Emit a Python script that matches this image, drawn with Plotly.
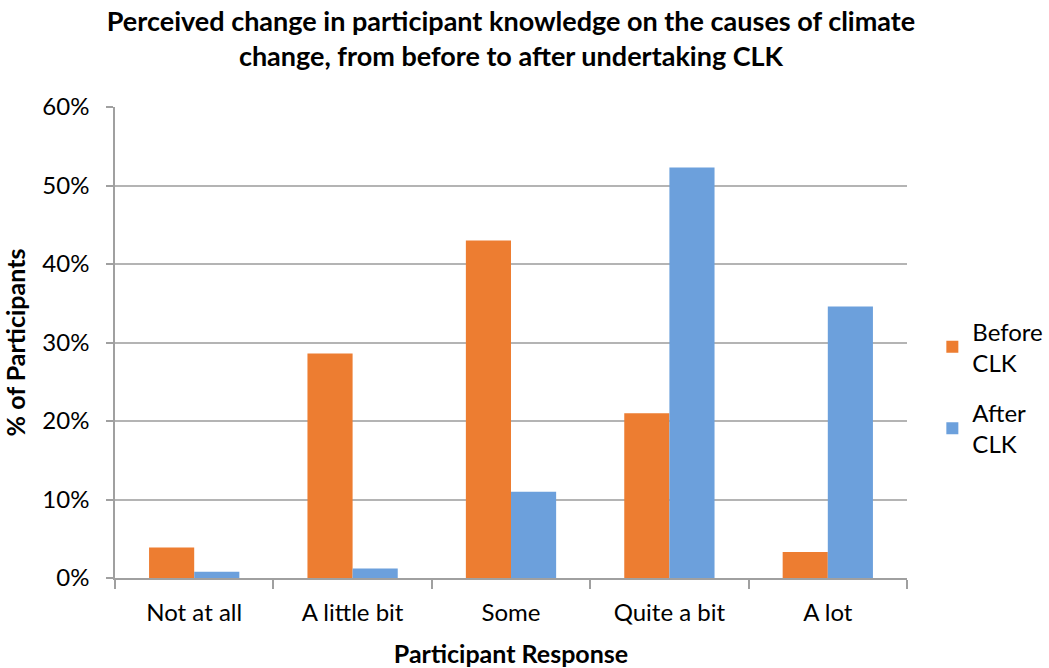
import plotly.graph_objects as go

categories = ["Not at all", "A little bit", "Some", "Quite a bit", "A lot"]
before_clk = [0.039, 0.286, 0.430, 0.210, 0.033]
after_clk = [0.008, 0.012, 0.110, 0.523, 0.346]
series_names = ["Before<br>CLK", "After<br>CLK"]

FONT = "Lato, Carlito, Calibri, sans-serif"

fig = go.Figure()
fig.add_trace(go.Bar(x=categories, y=before_clk, name=series_names[0], legendgroup="before",
                     marker=dict(color="#ED7D31", line=dict(width=0))))
fig.add_trace(go.Bar(x=categories, y=after_clk, name=series_names[1], legendgroup="after",
                     marker=dict(color="#6CA0DC", line=dict(width=0))))

fig.update_layout(
    width=1049, height=668,
    margin=dict(l=115, r=142, t=107, b=90, autoexpand=False),
    paper_bgcolor="white", plot_bgcolor="white",
    font=dict(family=FONT, size=24, color="#000000"),
    barmode="group", bargap=0.43, bargroupgap=0,
    title=dict(
        text="<b>Perceived change in participant knowledge on the causes of climate<br>change, from before to after undertaking CLK</b>",
        x=0.5, xref="paper", xanchor="center",
        y=0.954, yanchor="top",
        font=dict(family=FONT, size=27, color="#000000"),
    ),
    legend=dict(
        x=1.032, xanchor="left", y=0.571, yanchor="top",
        font=dict(family=FONT, size=24, color="#000000"),
        tracegroupgap=16, itemwidth=30,
        bgcolor="rgba(0,0,0,0)",
    ),
    showlegend=True,
)

fig.update_xaxes(
    showline=True, linecolor="#a0a0a0", linewidth=1.5,
    ticks="outside", tickson="boundaries", ticklen=9, tickcolor="#a0a0a0", tickwidth=1.5,
    showgrid=False, ticklabelstandoff=12,
    title=dict(text="<b>Participant Response</b>", font=dict(family=FONT, size=25), standoff=22),
    tickfont=dict(family=FONT, size=24),
)
fig.update_yaxes(
    range=[0, 0.6], dtick=0.1, tickformat=".0%",
    showline=True, linecolor="#a0a0a0", linewidth=1.5,
    ticks="outside", ticklen=7, tickcolor="#a0a0a0", tickwidth=1.5,
    showgrid=True, gridcolor="#b4b4b4", gridwidth=1.5,
    zeroline=False, ticklabelstandoff=12,
    title=dict(text="<b>% of Participants</b>", font=dict(family=FONT, size=25), standoff=10),
    tickfont=dict(family=FONT, size=24),
)

fig.write_html("out.html", config={"displayModeBar": False},
               post_script="document.body.style.margin='0';")
